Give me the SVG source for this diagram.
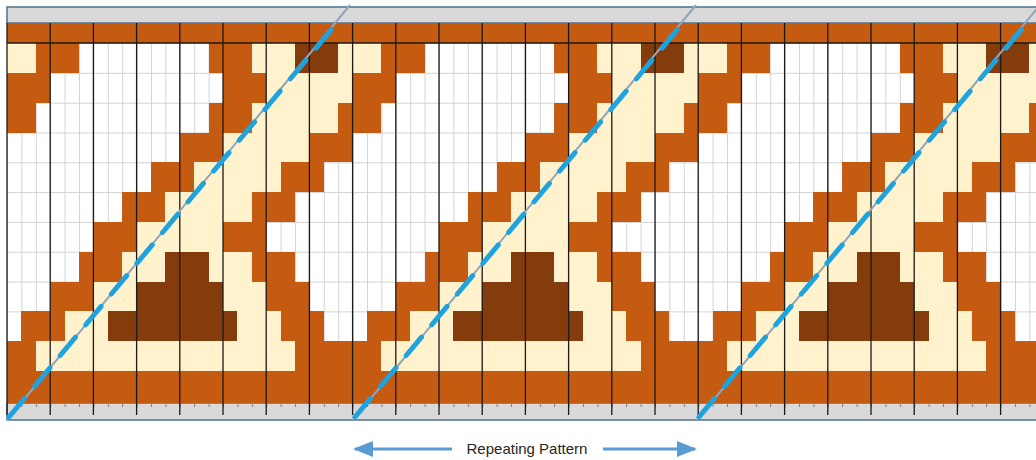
<svg xmlns="http://www.w3.org/2000/svg" xmlns:xlink="http://www.w3.org/1999/xlink" width="1036" height="460" viewBox="0 0 1036 460">
<style>
.o{fill:#C55A11}
.c{fill:#FFF2CC}
.d{fill:#843C0C}
#cells rect, #tile rect{shape-rendering:crispEdges}
.thick{stroke:#1a1a1a;stroke-width:1.3;fill:none}
.bar{fill:#D9D9D9;stroke:#50708F;stroke-width:1.5}
.guide{stroke:#8FA6BA;stroke-width:2;fill:none}
.dash{stroke:#1FA3DE;stroke-width:5;fill:none;stroke-dasharray:24 16;stroke-linecap:round}
.arr{stroke:#5B9BD5;stroke-width:3;fill:none}
.lbl{font-family:"Liberation Sans",Arial,sans-serif;font-size:15px;fill:#262626}
</style>
<defs>
<pattern id="grid" x="7" y="43" width="14.4" height="29.82" patternUnits="userSpaceOnUse">
<path d="M0.5 0V29.82M0 0.5H14.4" stroke="#D2D2D2" stroke-width="1" fill="none"/>
</pattern>
<pattern id="ticks" x="7" y="403" width="14.4" height="5" patternUnits="userSpaceOnUse">
<path d="M0.5 0V4" stroke="#7F7F7F" stroke-width="1" fill="none"/>
</pattern>
<marker id="ah" viewBox="0 0 20 16" refX="18" refY="8" markerWidth="20" markerHeight="16" markerUnits="userSpaceOnUse" orient="auto">
<path d="M0 0L20 8L0 16Z" fill="#5B9BD5"/>
</marker>
<g id="tile">
<rect class="c" x="0" y="43" width="28.8" height="29.9"/>
<rect class="o" x="28.8" y="43" width="43.2" height="29.9"/>
<rect class="o" x="201.6" y="43" width="43.2" height="29.9"/>
<rect class="c" x="244.8" y="43" width="43.2" height="29.9"/>
<rect class="d" x="288" y="43" width="43.2" height="29.9"/>
<rect class="c" x="331.2" y="43" width="14.4" height="29.9"/>

<rect class="o" x="0" y="72.8" width="43.2" height="29.9"/>
<rect class="o" x="216" y="72.8" width="43.2" height="29.9"/>
<rect class="c" x="259.2" y="72.8" width="86.4" height="29.9"/>

<rect class="o" x="0" y="102.6" width="28.8" height="29.9"/>
<rect class="o" x="201.6" y="102.6" width="43.2" height="29.9"/>
<rect class="c" x="244.8" y="102.6" width="86.4" height="29.9"/>
<rect class="o" x="331.2" y="102.6" width="14.4" height="29.9"/>

<rect class="o" x="172.8" y="132.5" width="43.2" height="29.9"/>
<rect class="c" x="216" y="132.5" width="86.4" height="29.9"/>
<rect class="o" x="302.4" y="132.5" width="43.2" height="29.9"/>

<rect class="o" x="144" y="162.3" width="43.2" height="29.9"/>
<rect class="c" x="187.2" y="162.3" width="86.4" height="29.9"/>
<rect class="o" x="273.6" y="162.3" width="43.2" height="29.9"/>

<rect class="o" x="115.2" y="192.1" width="43.2" height="29.9"/>
<rect class="c" x="158.4" y="192.1" width="86.4" height="29.9"/>
<rect class="o" x="244.8" y="192.1" width="43.2" height="29.9"/>

<rect class="o" x="86.4" y="221.9" width="43.2" height="29.9"/>
<rect class="c" x="129.6" y="221.9" width="86.4" height="29.9"/>
<rect class="o" x="216" y="221.9" width="43.2" height="29.9"/>

<rect class="o" x="72" y="251.7" width="43.2" height="29.9"/>
<rect class="c" x="115.2" y="251.7" width="43.2" height="29.9"/>
<rect class="d" x="158.4" y="251.7" width="43.2" height="29.9"/>
<rect class="c" x="201.6" y="251.7" width="43.2" height="29.9"/>
<rect class="o" x="244.8" y="251.7" width="43.2" height="29.9"/>

<rect class="o" x="43.2" y="281.6" width="43.2" height="29.9"/>
<rect class="c" x="86.4" y="281.6" width="43.2" height="29.9"/>
<rect class="d" x="129.6" y="281.6" width="86.4" height="29.9"/>
<rect class="c" x="216" y="281.6" width="43.2" height="29.9"/>
<rect class="o" x="259.2" y="281.6" width="43.2" height="29.9"/>

<rect class="o" x="14.4" y="311.4" width="43.2" height="29.9"/>
<rect class="c" x="57.6" y="311.4" width="43.2" height="29.9"/>
<rect class="d" x="100.8" y="311.4" width="129.6" height="29.9"/>
<rect class="c" x="230.4" y="311.4" width="43.2" height="29.9"/>
<rect class="o" x="273.6" y="311.4" width="43.2" height="29.9"/>

<rect class="o" x="0" y="341.2" width="28.8" height="29.9"/>
<rect class="c" x="28.8" y="341.2" width="259.2" height="29.9"/>
<rect class="o" x="288" y="341.2" width="57.6" height="29.9"/>
</g>
</defs>

<rect x="0" y="0" width="1036" height="460" fill="#FFFFFF"/>

<g id="frame">
<rect class="bar" x="7" y="7" width="1040" height="16"/>
<rect class="bar" x="7" y="403" width="1040" height="17"/>
<rect x="7" y="403" width="1036" height="5" fill="url(#ticks)"/>
</g>

<g id="grid-area">
<rect x="7" y="43" width="1036" height="328" fill="url(#grid)"/>
</g>

<g id="cells">
<rect class="o" x="7" y="23" width="1036" height="20"/>
<rect class="o" x="7" y="371" width="1036" height="32"/>
<use xlink:href="#tile" href="#tile" transform="translate(7,0)"/>
<use xlink:href="#tile" href="#tile" transform="translate(352.6,0)"/>
<use xlink:href="#tile" href="#tile" transform="translate(698.2,0)"/>
</g>

<g id="gridlines">
<path class="thick" d="M7 23V415M50.2 23V415M93.4 23V415M136.6 23V415M179.8 23V415M223 23V415M266.2 23V415M309.4 23V415M352.6 23V415M395.8 23V415M439 23V415M482.2 23V415M525.4 23V415M568.6 23V415M611.8 23V415M655 23V415M698.2 23V415M741.4 23V415M784.6 23V415M827.8 23V415M871 23V415M914.2 23V415M957.4 23V415M1000.6 23V415"/>
<path class="thick" d="M7 43H1036" stroke-width="1.2"/>
</g>

<g id="connectors">
<path class="guide" d="M7 420L350 5"/>
<path class="dash" d="M9 417L341 18"/>
<path class="guide" d="M353 420L696 5"/>
<path class="dash" d="M355 417L687 18"/>
<path class="guide" d="M697 420L1040 5"/>
<path class="dash" d="M699 417L1031 18"/>
</g>

<g id="repeat-label">
<path class="arr" d="M452 449H355" marker-end="url(#ah)"/>
<path class="arr" d="M603 449H695" marker-end="url(#ah)"/>
<text class="lbl" x="527" y="454" text-anchor="middle">Repeating  Pattern</text>
</g>
</svg>
